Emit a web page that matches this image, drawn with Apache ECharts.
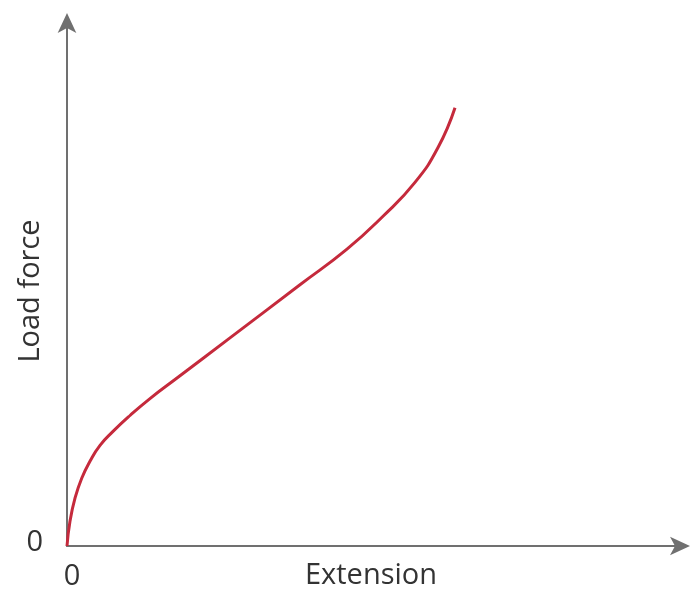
<!DOCTYPE html>
<html>
<head>
<meta charset="utf-8">
<script src="https://cdn.jsdelivr.net/npm/echarts@6/dist/echarts.min.js"></script>
<style>
html,body{margin:0;padding:0;background:#fff;}
#chart{width:695px;height:591px;}
</style>
</head>
<body>
<div id="chart"></div>
<script>
// Extension (x) and load force (y), arbitrary units 0..100
var extension = [0, 0.49, 1.30, 2.39, 3.73, 5.36, 7.47, 10.23, 13.47, 17.86, 26.46, 37.82, 45.45, 51.30, 56.49, 60.23, 62.99];
var loadForce = [0, 4.73, 9.09, 12.88, 16.10, 19.13, 21.78, 24.81, 28.03, 31.93, 39.56, 49.66, 56.44, 62.69, 69.13, 75.76, 83.33];
var xTickLabels = ['0'];
var yTickLabels = ['0'];
var xTitle = 'Extension';
var yTitle = 'Load force';

var points = extension.map(function (x, i) { return [x, loadForce[i]]; });
var font = 'Open Sans';
var chart = echarts.init(document.getElementById('chart'));
chart.setOption({
  animation: false,
  backgroundColor: '#ffffff',
  grid: { left: 67, right: 12, top: 20, bottom: 43, containLabel: false },
  xAxis: {
    type: 'value', min: 0, max: 100, interval: 100,
    splitLine: { show: false },
    axisTick: { show: false },
    axisLine: { lineStyle: { color: '#707070', width: 2 }, symbol: ['none', 'arrow'], symbolSize: [14, 20], symbolOffset: [0, 7] },
    axisLabel: {
      margin: 16, fontSize: 29, color: '#333', fontFamily: font,
      formatter: function (v) { return v === 0 ? xTickLabels[0] : ''; },
      padding: [0, 0, 0, 10]
    }
  },
  yAxis: {
    type: 'value', min: 0, max: 100, interval: 100,
    splitLine: { show: false },
    axisTick: { show: false },
    axisLine: { lineStyle: { color: '#707070', width: 2 }, symbol: ['none', 'arrow'], symbolSize: [14, 20], symbolOffset: [0, 7] },
    axisLabel: {
      margin: 24, fontSize: 29, color: '#333', fontFamily: font,
      verticalAlign: 'bottom', lineHeight: 6,
      formatter: function (v) { return v === 0 ? yTickLabels[0] : ''; }
    }
  },
  graphic: [
    { type: 'text', x: 371, y: 576, style: { text: xTitle, fontSize: 29, fill: '#333', fontFamily: font, align: 'center', verticalAlign: 'middle' } },
    { type: 'text', x: 31, y: 291, rotation: Math.PI / 2, style: { text: yTitle, fontSize: 29, fill: '#333', fontFamily: font, align: 'center', verticalAlign: 'middle' } }
  ],
  series: [{
    type: 'line', data: points, smooth: 0.5, showSymbol: false,
    lineStyle: { color: '#c52a3c', width: 3 }
  }]
});
</script>
</body>
</html>
